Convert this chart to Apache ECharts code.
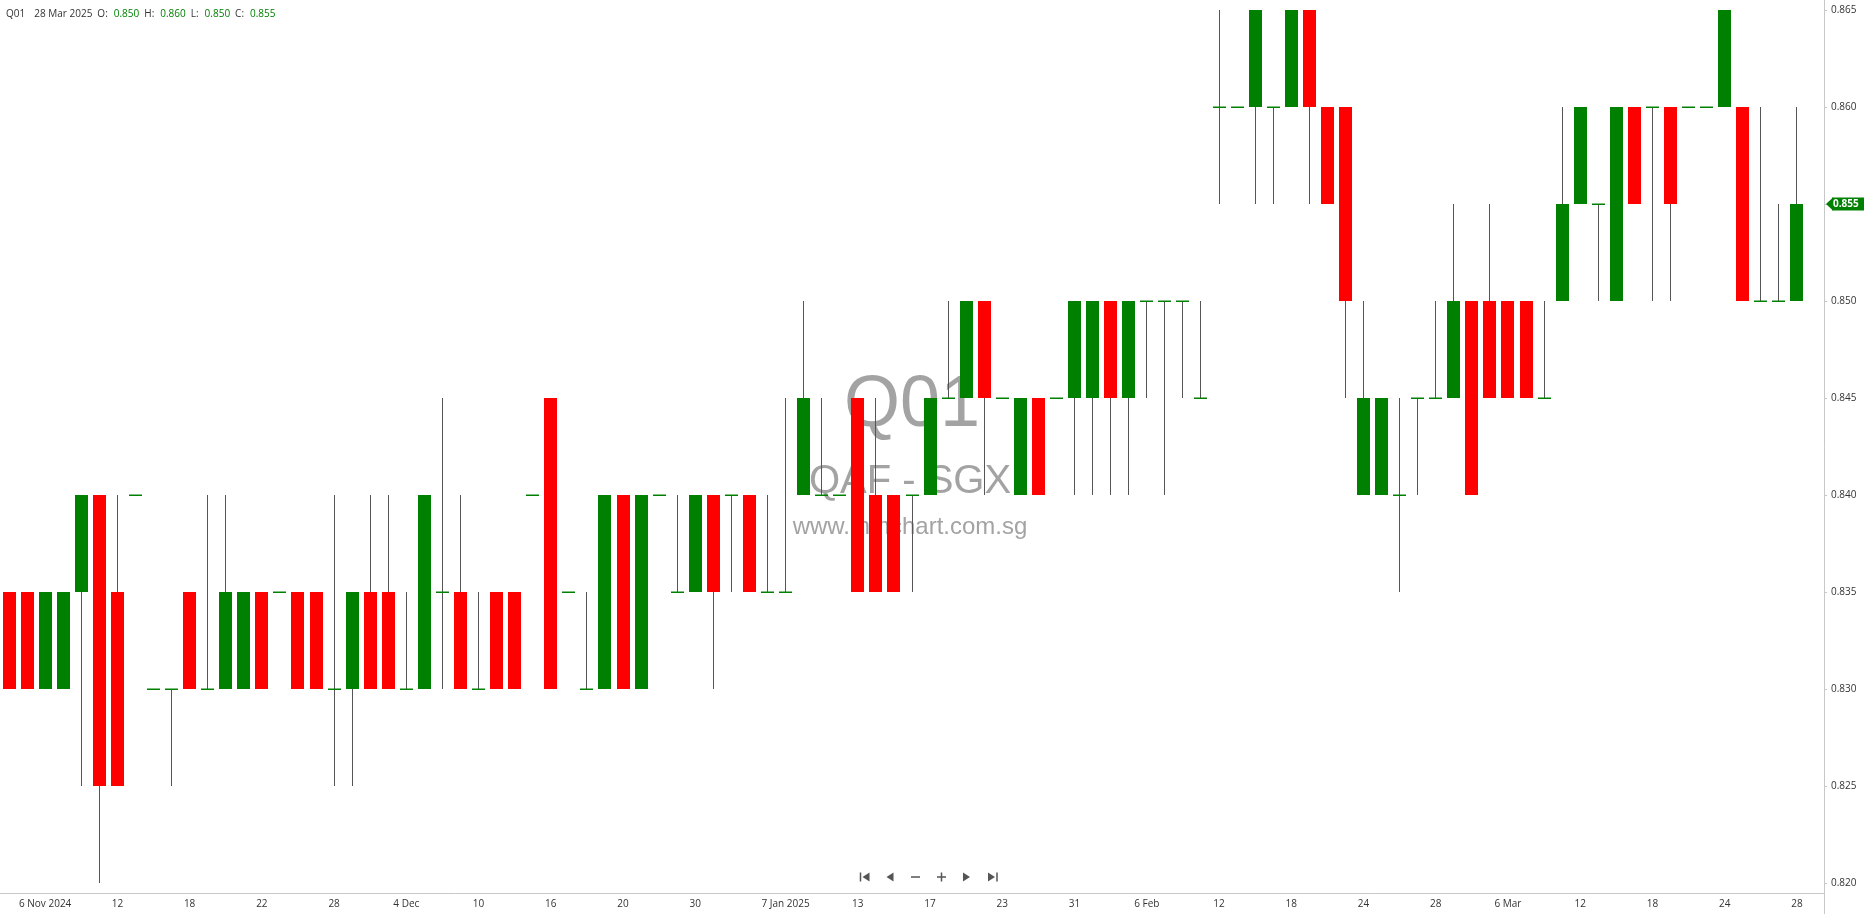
<!DOCTYPE html>
<html>
<head>
<meta charset="utf-8">
<title>Q01 - QAF - SGX</title>
<script src="https://cdn.jsdelivr.net/npm/echarts@6/dist/echarts.min.js"></script>
<style>
  html, body { margin: 0; padding: 0; background: #fff; }
  #chart { width: 1864px; height: 914px; }
</style>
</head>
<body>
<div id="chart"></div>
<script>
// trading days shown on the chart
const dates = [
  '2024-11-04', '2024-11-05', '2024-11-06', '2024-11-07', '2024-11-08',
  '2024-11-11', '2024-11-12', '2024-11-13', '2024-11-14', '2024-11-15',
  '2024-11-18', '2024-11-19', '2024-11-20', '2024-11-21', '2024-11-22',
  '2024-11-25', '2024-11-26', '2024-11-27', '2024-11-28', '2024-11-29',
  '2024-12-02', '2024-12-03', '2024-12-04', '2024-12-05', '2024-12-06',
  '2024-12-09', '2024-12-10', '2024-12-11', '2024-12-12', '2024-12-13',
  '2024-12-16', '2024-12-17', '2024-12-18', '2024-12-19', '2024-12-20',
  '2024-12-23', '2024-12-24', '2024-12-27', '2024-12-30', '2024-12-31',
  '2025-01-02', '2025-01-03', '2025-01-06', '2025-01-07', '2025-01-08',
  '2025-01-09', '2025-01-10', '2025-01-13', '2025-01-14', '2025-01-15',
  '2025-01-16', '2025-01-17', '2025-01-20', '2025-01-21', '2025-01-22',
  '2025-01-23', '2025-01-24', '2025-01-27', '2025-01-28', '2025-01-31',
  '2025-02-03', '2025-02-04', '2025-02-05', '2025-02-06', '2025-02-07',
  '2025-02-10', '2025-02-11', '2025-02-12', '2025-02-13', '2025-02-14',
  '2025-02-17', '2025-02-18', '2025-02-19', '2025-02-20', '2025-02-21',
  '2025-02-24', '2025-02-25', '2025-02-26', '2025-02-27', '2025-02-28',
  '2025-03-03', '2025-03-04', '2025-03-05', '2025-03-06', '2025-03-07',
  '2025-03-10', '2025-03-11', '2025-03-12', '2025-03-13', '2025-03-14',
  '2025-03-17', '2025-03-18', '2025-03-19', '2025-03-20', '2025-03-21',
  '2025-03-24', '2025-03-25', '2025-03-26', '2025-03-27', '2025-03-28'
];

const opens = [
  0.835, 0.835, 0.830, 0.830, 0.835, 0.840, 0.835, 0.840, 0.830, 0.830,
  0.835, 0.830, 0.830, 0.830, 0.835, 0.835, 0.835, 0.835, 0.830, 0.830,
  0.835, 0.835, 0.830, 0.830, 0.835, 0.835, 0.830, 0.835, 0.835, 0.840,
  0.845, 0.835, 0.830, 0.830, 0.840, 0.830, 0.840, 0.835, 0.835, 0.840,
  0.840, 0.840, 0.835, 0.835, 0.840, 0.840, 0.840, 0.845, 0.840, 0.840,
  0.840, 0.840, 0.845, 0.845, 0.850, 0.845, 0.840, 0.845, 0.845, 0.845,
  0.845, 0.850, 0.845, 0.850, 0.850, 0.850, 0.845, 0.860, 0.860, 0.860,
  0.860, 0.860, 0.865, 0.860, 0.860, 0.840, 0.840, 0.840, 0.845, 0.845,
  0.845, 0.850, 0.850, 0.850, 0.850, 0.845, 0.850, 0.855, 0.855, 0.850,
  0.860, 0.860, 0.860, 0.860, 0.860, 0.860, 0.860, 0.850, 0.850, 0.850
];
const highs = [
  0.835, 0.835, 0.835, 0.835, 0.840, 0.840, 0.840, 0.840, 0.830, 0.830,
  0.835, 0.840, 0.840, 0.835, 0.835, 0.835, 0.835, 0.835, 0.840, 0.835,
  0.840, 0.840, 0.835, 0.840, 0.845, 0.840, 0.835, 0.835, 0.835, 0.840,
  0.845, 0.835, 0.835, 0.840, 0.840, 0.840, 0.840, 0.840, 0.840, 0.840,
  0.840, 0.840, 0.840, 0.845, 0.850, 0.845, 0.840, 0.845, 0.845, 0.840,
  0.840, 0.845, 0.850, 0.850, 0.850, 0.845, 0.845, 0.845, 0.845, 0.850,
  0.850, 0.850, 0.850, 0.850, 0.850, 0.850, 0.850, 0.865, 0.860, 0.865,
  0.860, 0.865, 0.865, 0.860, 0.860, 0.850, 0.845, 0.845, 0.845, 0.850,
  0.855, 0.850, 0.855, 0.850, 0.850, 0.850, 0.860, 0.860, 0.855, 0.860,
  0.860, 0.860, 0.860, 0.860, 0.860, 0.865, 0.860, 0.860, 0.855, 0.860
];
const lows = [
  0.830, 0.830, 0.830, 0.830, 0.825, 0.820, 0.825, 0.840, 0.830, 0.825,
  0.830, 0.830, 0.830, 0.830, 0.830, 0.835, 0.830, 0.830, 0.825, 0.825,
  0.830, 0.830, 0.830, 0.830, 0.830, 0.830, 0.830, 0.830, 0.830, 0.840,
  0.830, 0.835, 0.830, 0.830, 0.830, 0.830, 0.840, 0.835, 0.835, 0.830,
  0.835, 0.835, 0.835, 0.835, 0.840, 0.840, 0.840, 0.835, 0.835, 0.835,
  0.835, 0.840, 0.845, 0.845, 0.840, 0.845, 0.840, 0.840, 0.845, 0.840,
  0.840, 0.840, 0.840, 0.845, 0.840, 0.845, 0.845, 0.855, 0.860, 0.855,
  0.855, 0.860, 0.855, 0.855, 0.845, 0.840, 0.840, 0.835, 0.840, 0.845,
  0.845, 0.840, 0.845, 0.845, 0.845, 0.845, 0.850, 0.855, 0.850, 0.850,
  0.855, 0.850, 0.850, 0.860, 0.860, 0.860, 0.850, 0.850, 0.850, 0.850
];
const closes = [
  0.830, 0.830, 0.835, 0.835, 0.840, 0.825, 0.825, 0.840, 0.830, 0.830,
  0.830, 0.830, 0.835, 0.835, 0.830, 0.835, 0.830, 0.830, 0.830, 0.835,
  0.830, 0.830, 0.830, 0.840, 0.835, 0.830, 0.830, 0.830, 0.830, 0.840,
  0.830, 0.835, 0.830, 0.840, 0.830, 0.840, 0.840, 0.835, 0.840, 0.835,
  0.840, 0.835, 0.835, 0.835, 0.845, 0.840, 0.840, 0.835, 0.835, 0.835,
  0.840, 0.845, 0.845, 0.850, 0.845, 0.845, 0.845, 0.840, 0.845, 0.850,
  0.850, 0.845, 0.850, 0.850, 0.850, 0.850, 0.845, 0.860, 0.860, 0.865,
  0.860, 0.865, 0.860, 0.855, 0.850, 0.845, 0.845, 0.840, 0.845, 0.845,
  0.850, 0.840, 0.845, 0.845, 0.845, 0.845, 0.855, 0.860, 0.855, 0.860,
  0.855, 0.860, 0.855, 0.860, 0.860, 0.865, 0.850, 0.850, 0.850, 0.855
];

// labelled days on the time axis
const tickDates = [
  '2024-11-06', '2024-11-12', '2024-11-18', '2024-11-22', '2024-11-28',
  '2024-12-04', '2024-12-10', '2024-12-16', '2024-12-20', '2024-12-30',
  '2025-01-07', '2025-01-13', '2025-01-17', '2025-01-23', '2025-01-31',
  '2025-02-06', '2025-02-12', '2025-02-18', '2025-02-24', '2025-02-28',
  '2025-03-06', '2025-03-12', '2025-03-18', '2025-03-24', '2025-03-28'
];
const tickLabels = [
  '6 Nov 2024', '12', '18', '22', '28',
  '4 Dec', '10', '16', '20', '30',
  '7 Jan 2025', '13', '17', '23', '31',
  '6 Feb', '12', '18', '24', '28',
  '6 Mar', '12', '18', '24', '28'
];
const priceTicks = [0.820, 0.825, 0.830, 0.835, 0.840, 0.845, 0.850, 0.855, 0.860, 0.865];

const UP = '#008000';
const DOWN = '#ff0000';
const WICK = '#555555';
const AXIS = '#c8c8c8';
const FONT = '"Open Sans", "Noto Sans", sans-serif';
const MARK_FONT = '"Liberation Sans", Arial, sans-serif';

const months = ['Jan', 'Feb', 'Mar', 'Apr', 'May', 'Jun', 'Jul', 'Aug', 'Sep', 'Oct', 'Nov', 'Dec'];
function longDate(s) {
  const [y, m, d] = s.split('-');
  return `${+d} ${months[+m - 1]} ${y}`;
}

const last = dates.length - 1;
const candles = dates.map((d, i) => [i, opens[i], closes[i], lows[i], highs[i]]);

function renderCandle(params, api) {
  const idx = api.value(0);
  const o = api.value(1), c = api.value(2), lo = api.value(3), hi = api.value(4);
  const band = api.size([1, 0])[0];
  const bw = Math.round(band * 0.73);
  const pO = api.coord([idx, o]);
  const yC = api.coord([idx, c])[1];
  const yHi = api.coord([idx, hi])[1];
  const yLo = api.coord([idx, lo])[1];
  const x0 = Math.round(pO[0] - bw / 2);
  const xw = x0 + Math.floor(bw / 2) + 0.5;
  const children = [];
  if (hi !== lo) {
    children.push({
      type: 'line',
      shape: { x1: xw, y1: Math.round(yHi), x2: xw, y2: Math.round(yLo) },
      style: { stroke: WICK, lineWidth: 1 }
    });
  }
  if (o === c) {
    children.push({
      type: 'rect',
      shape: { x: x0, y: Math.round(pO[1]) - 0.5, width: bw, height: 1.5 },
      style: { fill: UP }
    });
  } else {
    const top = Math.round(Math.min(pO[1], yC));
    const bot = Math.round(Math.max(pO[1], yC));
    children.push({
      type: 'rect',
      shape: { x: x0, y: top, width: bw, height: bot - top },
      style: { fill: c > o ? UP : DOWN }
    });
  }
  return { type: 'group', children };
}

// last-price tag sitting on the price axis
function renderTag(params, api) {
  const price = api.value(1);
  const y = Math.round(api.coord([api.value(0), price])[1]);
  const ax = params.coordSys.x + params.coordSys.width;
  return {
    type: 'group',
    children: [
      { type: 'polygon', shape: { points: [[ax + 2, y], [ax + 9, y - 6.5], [ax + 9, y + 6.5]] }, style: { fill: UP } },
      { type: 'rect', shape: { x: ax + 8, y: y - 6.5, width: 32, height: 13 }, style: { fill: UP } },
      { type: 'text', style: { text: price.toFixed(3), x: ax + 9, y: y + 0.5, align: 'left', verticalAlign: 'middle',
        font: 'bold 10px "Open Sans", "Noto Sans", sans-serif', fill: '#ffffff' } }
    ]
  };
}

// chart navigation buttons under the plot
function navIcons(cx, cy) {
  const fill = '#555';
  const tri = (x, dir) => ({
    type: 'polygon',
    shape: { points: dir < 0
      ? [[x + 3.5, cy - 4.5], [x + 3.5, cy + 4.5], [x - 3.5, cy]]
      : [[x - 3.5, cy - 4.5], [x - 3.5, cy + 4.5], [x + 3.5, cy]] },
    style: { fill }
  });
  const bar = (x, w, h) => ({ type: 'rect', shape: { x: x - w / 2, y: cy - h / 2, width: w, height: h }, style: { fill } });
  return [
    bar(cx[0] - 4.5, 1.5, 9), tri(cx[0] + 1, -1),
    tri(cx[1], -1),
    bar(cx[2], 9, 1.5),
    bar(cx[3], 9, 1.5), bar(cx[3], 1.5, 9),
    tri(cx[4], 1),
    tri(cx[5] - 1, 1), bar(cx[5] + 4.5, 1.5, 9)
  ];
}

const chart = echarts.init(document.getElementById('chart'), null, { renderer: 'canvas' });

const option = {
  animation: false,
  backgroundColor: '#ffffff',
  textStyle: { fontFamily: FONT },
  title: {
    left: 6,
    top: 9,
    padding: 0,
    text: `{n|Q01}{d|${longDate(dates[last])}}{l|O:}{v|${opens[last].toFixed(3)}}{l|H:}{v|${highs[last].toFixed(3)}}{l|L:}{v|${lows[last].toFixed(3)}}{l|C:}{v|${closes[last].toFixed(3)}}`,
    textStyle: {
      fontSize: 10,
      fontWeight: 'normal',
      fontFamily: FONT,
      rich: {
        n: { color: '#333', fontSize: 10, padding: [0, 9, 0, 0] },
        d: { color: '#333', fontSize: 10, padding: [0, 5, 0, 0] },
        l: { color: '#333', fontSize: 10, padding: [0, 6, 0, 0] },
        v: { color: UP, fontSize: 10, padding: [0, 5, 0, 0] }
      }
    }
  },
  grid: { left: 0, right: 40, top: 0, bottom: 21, containLabel: false },
  xAxis: {
    type: 'category',
    data: dates.concat(['']),
    boundaryGap: true,
    axisLine: { lineStyle: { color: AXIS, width: 1 } },
    axisTick: {
      alignWithLabel: true,
      length: 4,
      interval: (i, v) => tickDates.includes(v),
      lineStyle: { color: AXIS }
    },
    axisLabel: {
      interval: (i, v) => tickDates.includes(v),
      formatter: (v) => tickLabels[tickDates.indexOf(v)] || '',
      color: '#333',
      fontSize: 10,
      fontFamily: FONT,
      margin: 6
    },
    splitLine: { show: false }
  },
  yAxis: {
    type: 'value',
    position: 'right',
    min: 0.81948,
    max: 0.86552,
    scale: true,
    axisLine: { show: true, lineStyle: { color: AXIS, width: 1 } },
    axisTick: { show: true, length: 3, customValues: priceTicks, lineStyle: { color: AXIS } },
    axisLabel: {
      customValues: priceTicks,
      formatter: (v) => v.toFixed(3),
      color: '#333',
      fontSize: 10,
      fontFamily: FONT,
      margin: 7
    },
    splitLine: { show: false }
  },
  graphic: [
    {
      type: 'text', z: 0, silent: true,
      style: { text: 'Q01', x: 912, y: 406, align: 'center', verticalAlign: 'middle',
        font: '72px ' + MARK_FONT, fill: '#a3a3a3' }
    },
    {
      type: 'text', z: 0, silent: true,
      style: { text: 'QAF - SGX', x: 910, y: 482, align: 'center', verticalAlign: 'middle',
        font: '40px ' + MARK_FONT, fill: '#a3a3a3' }
    },
    {
      type: 'text', z: 0, silent: true,
      style: { text: 'www.mmchart.com.sg', x: 910, y: 527, align: 'center', verticalAlign: 'middle',
        font: '24px ' + MARK_FONT, fill: '#a3a3a3' }
    },
    {
      type: 'line', silent: true,
      shape: { x1: 1824.5, y1: 893, x2: 1824.5, y2: 914 },
      style: { stroke: AXIS, lineWidth: 1 }
    },
    { type: 'group', silent: true, children: navIcons([865, 890, 915.5, 941.5, 966.5, 992.5], 877) }
  ],
  series: [
    {
      name: 'Q01',
      type: 'custom',
      z: 5,
      renderItem: renderCandle,
      encode: { x: 0, y: [1, 2, 3, 4] },
      data: candles
    },
    {
      name: 'last',
      type: 'custom',
      z: 10,
      silent: true,
      clip: false,
      renderItem: renderTag,
      encode: { x: 0, y: 1 },
      data: [[last, closes[last]]]
    }
  ]
};

chart.setOption(option);
</script>
</body>
</html>
